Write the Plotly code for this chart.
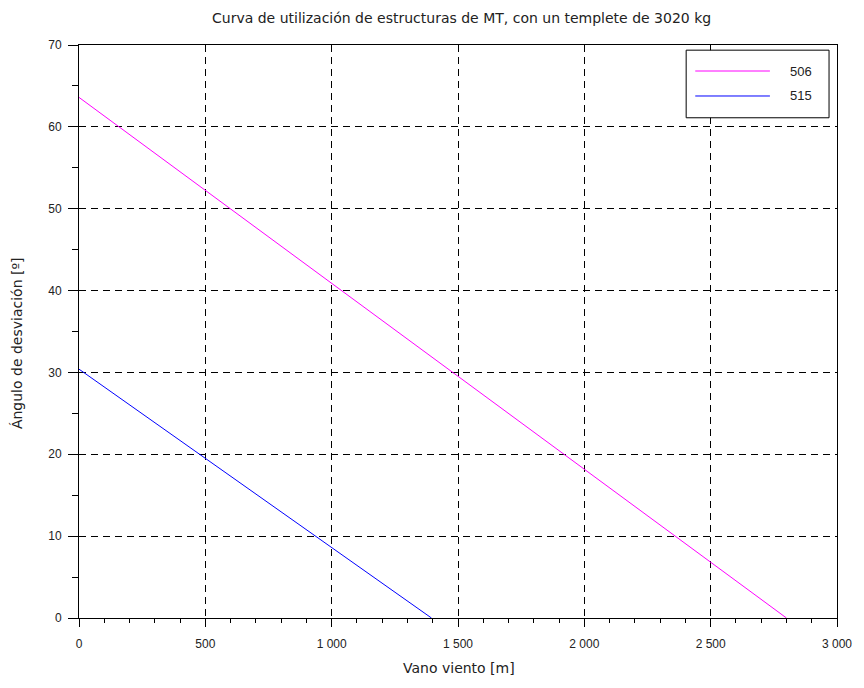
import plotly.graph_objects as go

# Vano viento [m] vs. ángulo de desviación [º] for each structure type
series_names = ["506", "515"]
vano_506 = [0, 2800]
angulo_506 = [63.6, 0]
vano_515 = [0, 1395]
angulo_515 = [30.4, 0]
colors = ["#ff00ff", "#0000ff"]

x_ticks = [0, 500, 1000, 1500, 2000, 2500, 3000]
y_ticks = [0, 10, 20, 30, 40, 50, 60, 70]

TICK_FONT = dict(family="Liberation Sans", size=12, color="#222222")
LEGEND_FONT = dict(family="Liberation Sans", size=13, color="#222222")
LABEL_FONT = dict(family="DejaVu Sans", size=14, color="#222222")

fig = go.Figure()
for name, xs, ys, col in zip(series_names, [vano_506, vano_515],
                             [angulo_506, angulo_515], colors):
    fig.add_trace(go.Scatter(x=xs, y=ys, mode="lines", name=name,
                             line=dict(color=col, width=1), showlegend=False))

axis_common = dict(
    showline=True, linecolor="black", linewidth=1, mirror=True,
    ticks="outside", tickcolor="black", tickwidth=1,
    showgrid=True, gridcolor="black", gridwidth=1, griddash="7px,5px",
    zeroline=False, tickfont=TICK_FONT,
)

fig.update_xaxes(
    **axis_common, range=[0, 3000], tickvals=x_ticks, ticklen=8,
    ticklabelstandoff=7, separatethousands=True, tickformat=",d",
    minor=dict(dtick=100, ticklen=4, ticks="outside", tickcolor="black",
               showgrid=False),
)
fig.update_yaxes(
    **axis_common, range=[0, 70], tickvals=y_ticks, ticklen=10,
    ticklabelstandoff=4,
    minor=dict(dtick=5, ticklen=6, ticks="outside", tickcolor="black",
               showgrid=False),
)

# Legend box drawn in paper coordinates
shapes = [dict(type="rect", xref="paper", yref="paper",
               x0=0.801, x1=0.9895, y0=0.873, y1=0.991,
               line=dict(color="black", width=1), fillcolor="white", layer="above")]
annotations = [
    dict(xref="paper", yref="paper", x=0.504, y=1.0,
         yshift=27, text="Curva de utilización de estructuras de MT, con un templete de 3020 kg",
         showarrow=False, xanchor="center", yanchor="middle", font=LABEL_FONT),
    dict(xref="paper", yref="paper", x=0.5007, y=-0.0873,
         text="Vano viento [m]", showarrow=False,
         xanchor="center", yanchor="middle", font=LABEL_FONT),
    dict(xref="paper", yref="paper", x=-0.0816, y=0.48,
         text="Ángulo de desviación [º]", showarrow=False, textangle=-90,
         xanchor="center", yanchor="middle", font=LABEL_FONT),
]
for i, (name, col) in enumerate(zip(series_names, colors)):
    yy = 0.9546 - i * 0.0436
    shapes.append(dict(type="line", xref="paper", yref="paper",
                       x0=0.813, x1=0.9115, y0=yy, y1=yy,
                       line=dict(color=col, width=1), layer="above"))
    annotations.append(dict(xref="paper", yref="paper", x=0.935, y=yy,
                            text=name, showarrow=False, xanchor="left",
                            yanchor="middle", font=LEGEND_FONT))

fig.update_layout(
    width=864, height=688,
    margin=dict(l=79, r=25, t=45, b=70),
    paper_bgcolor="white", plot_bgcolor="white",
    separators=". ",
    shapes=shapes, annotations=annotations,
    showlegend=False,
)

fig.write_html("out.html")
